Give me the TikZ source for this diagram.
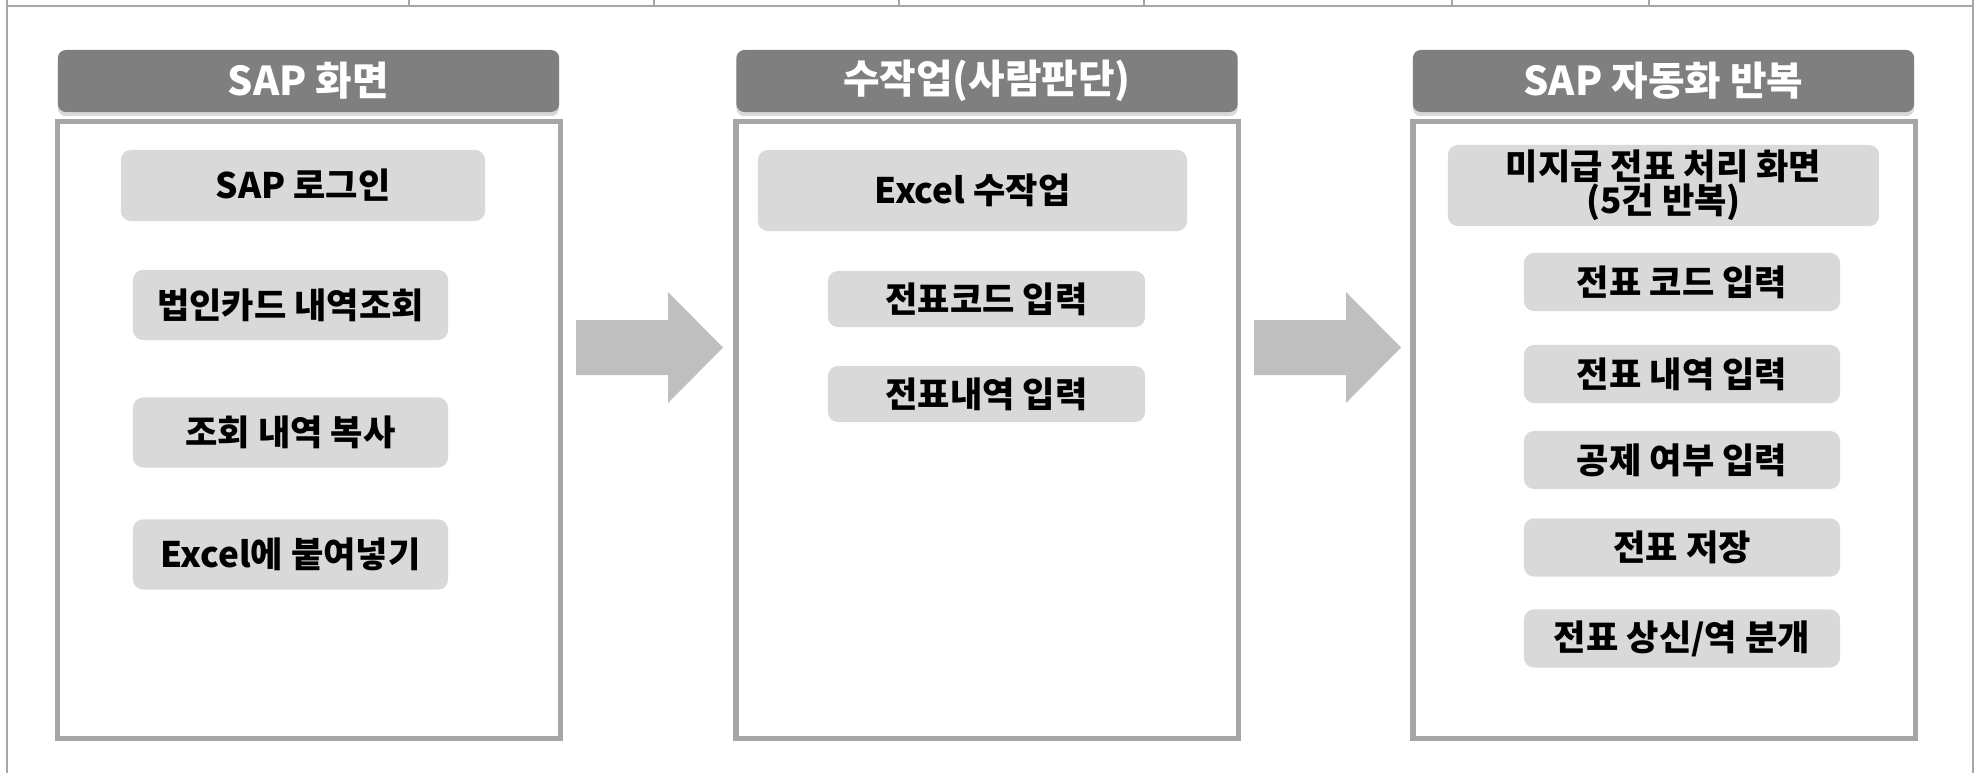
\documentclass[tikz,border=0pt]{standalone}
\usepackage{fontspec}
\setmainfont{Noto Sans CJK KR}
\usetikzlibrary{shadows}
\definecolor{hdr}{HTML}{7F7F7F}
\definecolor{framecol}{HTML}{A6A6A6}
\definecolor{itemfill}{HTML}{D9D9D9}
\definecolor{arrowfill}{HTML}{BFBFBF}
\definecolor{tableline}{HTML}{A6A6A6}
\begin{document}
\begin{tikzpicture}[x=0.01cm,y=-0.01cm,
  header/.style={fill=hdr, rounded corners=0.08cm, text=white,
    font=\fontsize{11.3pt}{12pt}\selectfont\bfseries,
    minimum width=5.01cm, minimum height=0.62cm, inner sep=0pt,
    drop shadow={shadow xshift=0pt, shadow yshift=-1.2pt, opacity=0.3}},
  panel/.style={draw=framecol, line width=1.5pt, fill=white,
    minimum width=5.02cm, minimum height=6.16cm, inner sep=0pt},
  item/.style={fill=itemfill, rounded corners=0.1cm,
    font=\fontsize{10pt}{9.8pt}\selectfont\bfseries, align=center, inner sep=0pt},
  itemw/.style={item, minimum width=3.15cm, minimum height=0.7cm},
  blockarrow/.style={fill=arrowfill},
  tline/.style={draw=tableline, line width=0.6pt}]
\useasboundingbox (0,0) rectangle (1980,773);
% table remnants
\draw[tline] (7,0) -- (7,773);
\draw[tline] (1973,0) -- (1973,773);
\draw[tline] (7,6) -- (1973,6);
\foreach \xx in {409,654,899,1144,1452,1649} \draw[tline] (\xx,0) -- (\xx,6);
% panels
\node[panel] (p1) at (309,430) {};
\node[panel] (p2) at (987,430) {};
\node[panel] (p3) at (1664,430) {};
% headers
\node[header] (h1) at (308.5,81) {SAP 화면};
\node[header] (h2) at (987,81) {수작업(사람판단)};
\node[header] (h3) at (1663.5,81) {SAP 자동화 반복};
% panel 1 items
\node[item, minimum width=3.64cm, minimum height=0.71cm] (a1) at (303,185.5) {SAP 로그인};
\node[itemw] (a2) at (290.5,305) {법인카드 내역조회};
\node[itemw] (a3) at (290.5,432.5) {조회 내역 복사};
\node[itemw] (a4) at (290.5,554.5) {Excel에 붙여넣기};
% panel 2 items
\node[item, minimum width=4.29cm, minimum height=0.81cm] (b1) at (972.5,190.5) {Excel 수작업};
\node[item, minimum width=3.17cm, minimum height=0.56cm] (b2) at (986.5,299) {전표코드 입력};
\node[item, minimum width=3.17cm, minimum height=0.56cm] (b3) at (986.5,394) {전표내역 입력};
% panel 3 items
\node[item, minimum width=4.31cm, minimum height=0.81cm] (c1) at (1663.5,185.5) {미지급 전표 처리 화면\\(5건 반복)};
\node[item, minimum width=3.16cm, minimum height=0.58cm] (c2) at (1682,282) {전표 코드 입력};
\node[item, minimum width=3.16cm, minimum height=0.58cm] (c3) at (1682,374) {전표 내역 입력};
\node[item, minimum width=3.16cm, minimum height=0.58cm] (c4) at (1682,460) {공제 여부 입력};
\node[item, minimum width=3.16cm, minimum height=0.58cm] (c5) at (1682,547.5) {전표 저장};
\node[item, minimum width=3.16cm, minimum height=0.58cm] (c6) at (1682,638.5) {전표 상신/역 분개};
% block arrows
\fill[blockarrow] (576,320) -- (668,320) -- (668,292) -- (723,347.5) -- (668,403) -- (668,375) -- (576,375) -- cycle;
\fill[blockarrow] (1254,320) -- (1346,320) -- (1346,292) -- (1401,347.5) -- (1346,403) -- (1346,375) -- (1254,375) -- cycle;
\end{tikzpicture}
\end{document}
